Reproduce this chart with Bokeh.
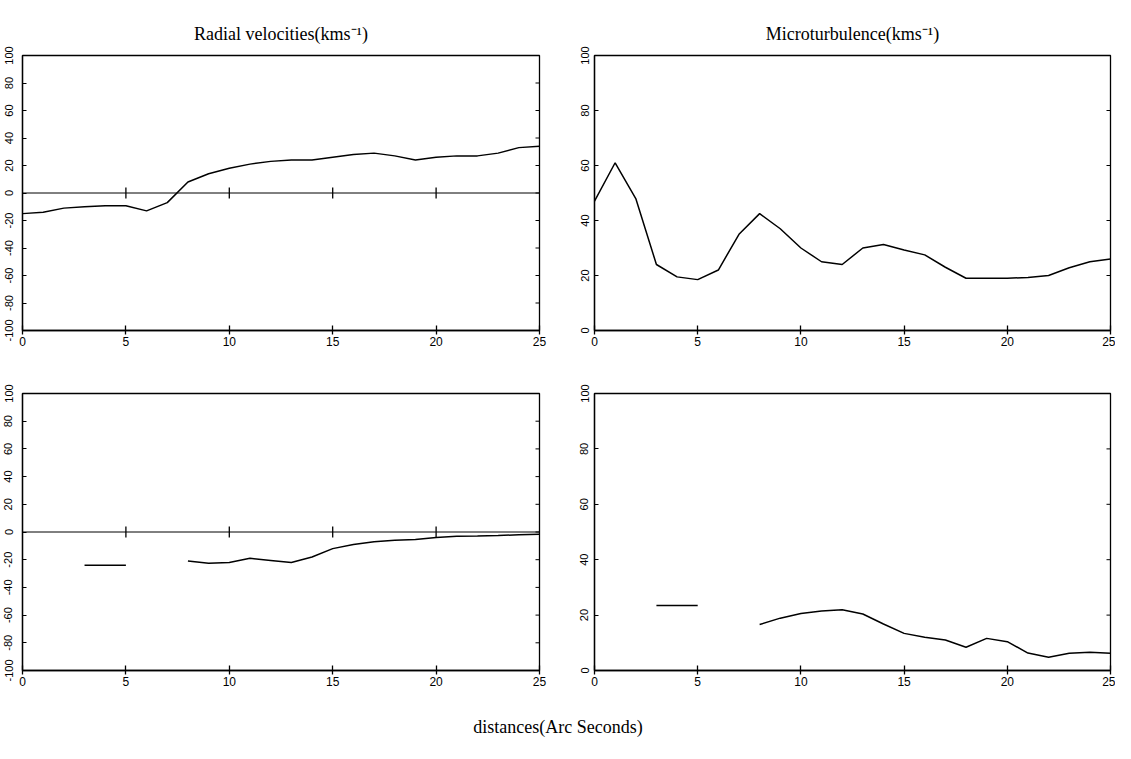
import math
from bokeh.plotting import figure
from bokeh.layouts import column, row
from bokeh.models import Range1d, FixedTicker
from bokeh.core.properties import value
from bokeh.embed import file_html
from bokeh.resources import INLINE

# ---------------- data ----------------
X_MIN, X_MAX = 0, 25
X_FULL = list(range(26))
RV_TOP = [-15, -14, -11, -10, -9.3, -9.2, -13, -7, 8, 14, 18, 21, 23, 24, 24, 26,
          28, 29, 27, 24, 26, 27, 27, 29, 33, 34]
MT_TOP = [47, 61, 48, 24, 19.5, 18.5, 22, 35, 42.5, 37, 30, 25, 24, 30, 31.3, 29.3,
          27.5, 23, 19, 19, 19, 19.3, 20, 22.8, 25, 26]

X_SEG = [3, 5]
RV_BOT_SEG = [-24, -24]
MT_BOT_SEG = [23.5, 23.5]
X_BOT = list(range(8, 26))
RV_BOT = [-21, -22.5, -22, -19, -20.5, -22, -18, -12, -9, -7, -6, -5.5, -4, -3,
          -2.8, -2.5, -2, -1.7]
MT_BOT = [16.6, 18.9, 20.6, 21.5, 21.9, 20.4, 16.8, 13.4, 12, 11, 8.4, 11.6, 10.4,
          6.3, 4.8, 6.2, 6.6, 6.2]

X_TICKS = [0, 5, 10, 15, 20, 25]
ZERO_LINE_TICKS = [5, 10, 15, 20]
Y_TICKS_RV = [-100, -80, -60, -40, -20, 0, 20, 40, 60, 80, 100]
Y_LABELS_RV = ["-100", "-80", "-60", "-40", "-20", "0", "20", "40", "60", "80", "100"]
Y_TICKS_MT = [0, 20, 40, 60, 80, 100]
Y_LABELS_MT = ["0", "20", "40", "60", "80", "100"]

TITLE_RV = "Radial velocities(kms\u207b\u00b9)"
TITLE_MT = "Microturbulence(kms\u207b\u00b9)"
XLABEL = "distances(Arc Seconds)"

SERIF = "Liberation Serif"
SANS = "Liberation Sans"


def make_fig(w, h, bl, br, bt, bb, yr, yticks, ylabels, standoff, title=None):
    kw = dict(width=w, height=h, x_range=Range1d(X_MIN, X_MAX), y_range=Range1d(*yr),
              output_backend="svg", toolbar_location=None,
              min_border_left=bl, min_border_right=br, min_border_top=bt,
              min_border_bottom=bb)
    if title is not None:
        kw["title"] = title
    p = figure(**kw)
    p.grid.visible = False
    p.outline_line_color = "black"
    p.outline_line_width = 1.3
    if title is not None:
        p.title.align = "center"
        p.title.text_font = SERIF
        p.title.text_font_size = "18px"
        p.title.text_font_style = "normal"
        p.title.text_color = "black"
        p.title.standoff = 24

    xa = p.xaxis[0]
    xa.ticker = FixedTicker(ticks=X_TICKS)
    xa.major_tick_in = 5
    xa.major_tick_out = 4
    xa.minor_tick_line_color = None
    xa.axis_line_width = 1.3
    xa.major_tick_line_width = 1.3
    xa.major_label_text_font = SANS
    xa.major_label_text_font_size = "12px"
    xa.major_label_standoff = 2
    xa.major_label_text_color = "black"

    ya = p.yaxis[0]
    ya.ticker = FixedTicker(ticks=yticks)
    ya.major_label_overrides = {t: l for t, l in zip(yticks, ylabels)}
    ya.major_label_orientation = "vertical"
    ya.major_tick_in = 4
    ya.major_tick_out = 0
    ya.minor_tick_line_color = None
    ya.axis_line_width = 1.3
    ya.major_label_text_font = SANS
    ya.major_label_text_font_size = "11px"
    ya.major_label_standoff = standoff
    ya.major_label_text_color = "black"

    # mirrored inward ticks on the right edge
    p.ray(x=[X_MAX] * len(yticks), y=yticks, length=4, length_units="screen",
          angle=math.pi, line_color="black", line_width=1)
    return p


def zero_line(p):
    p.line(x=[X_MIN, X_MAX], y=[0, 0], line_color="black", line_width=1)
    p.segment(x0=ZERO_LINE_TICKS, x1=ZERO_LINE_TICKS,
              y0=[-4] * len(ZERO_LINE_TICKS), y1=[4] * len(ZERO_LINE_TICKS),
              line_color="black", line_width=1.3)


LW = 1.5

# top-left
p1 = make_fig(569, 357, 22, 30, 55, 27, (-100, 100), Y_TICKS_RV, Y_LABELS_RV, 10,
              TITLE_RV)
zero_line(p1)
p1.line(X_FULL, RV_TOP, line_color="black", line_width=LW)

# top-right
p2 = make_fig(546, 357, 25, 5, 55, 27, (0, 100), Y_TICKS_MT, Y_LABELS_MT, 6,
              TITLE_MT)
p2.line(X_FULL, MT_TOP, line_color="black", line_width=LW)

# bottom-left
p3 = make_fig(569, 333, 22, 30, 36, 20, (-100, 100), Y_TICKS_RV, Y_LABELS_RV, 10)
zero_line(p3)
p3.line(X_SEG, RV_BOT_SEG, line_color="black", line_width=LW)
p3.line(X_BOT, RV_BOT, line_color="black", line_width=LW)

# bottom-right
p4 = make_fig(546, 333, 25, 5, 36, 20, (0, 100), Y_TICKS_MT, Y_LABELS_MT, 6)
p4.line(X_SEG, MT_BOT_SEG, line_color="black", line_width=LW)
p4.line(X_BOT, MT_BOT, line_color="black", line_width=LW)

# x label
pl = figure(width=1115, height=53, x_range=Range1d(0, 1), y_range=Range1d(0, 1),
            output_backend="svg", toolbar_location=None, min_border=0)
pl.axis.visible = False
pl.grid.visible = False
pl.outline_line_color = None
pl.text(x=[0.5], y=[0.32], text=[XLABEL], text_font=value(SERIF),
        text_font_size="18px", text_align="center", text_baseline="middle",
        text_color="black")

layout = column(row(p1, p2), row(p3, p4), pl)
open("out.html", "w").write(file_html(layout, INLINE))
